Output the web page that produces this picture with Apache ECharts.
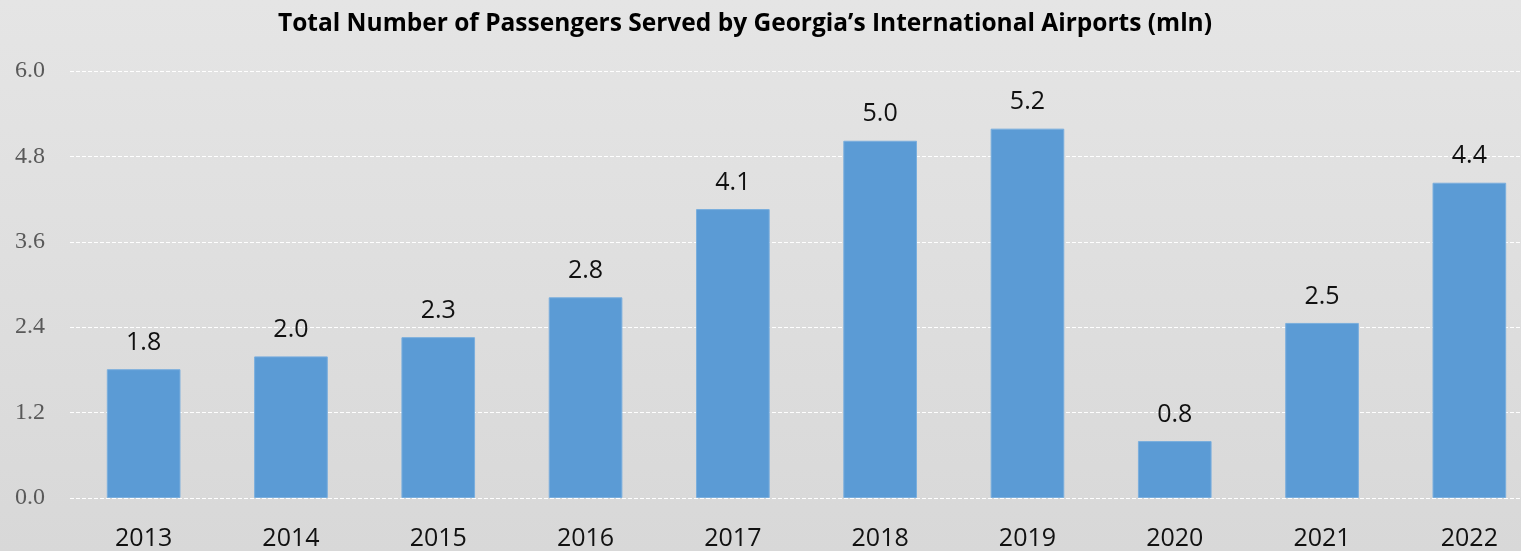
<!DOCTYPE html>
<html><head><meta charset="utf-8">
<script src="https://cdn.jsdelivr.net/npm/echarts@6/dist/echarts.min.js"></script>
<style>
html,body{margin:0;padding:0;width:1521px;height:551px;overflow:hidden;background:linear-gradient(to bottom,#e5e5e5,#d8d8d8);}
#c{width:1545px;height:551px;}
</style></head><body><div id="c"></div>
<script>
const titleText = "Total Number of Passengers Served by Georgia\u2019s International Airports (mln)";
const years = ["2013","2014","2015","2016","2017","2018","2019","2020","2021","2022"];
const passengers = [1.81, 1.99, 2.26, 2.82, 4.06, 5.02, 5.19, 0.80, 2.46, 4.43];
const yTicks = {min: 0, max: 6, interval: 1.2};

const chart = echarts.init(document.getElementById('c'), null, {renderer: 'canvas'});
chart.setOption({
  backgroundColor: 'transparent',
  animation: false,
  title: {
    text: titleText, left: 740, top: 7, textAlign: 'center',
    textStyle: {fontFamily: 'Open Sans', fontWeight: 'bold', fontSize: 24.5, color: '#000'}
  },
  grid: {left: 70, top: 71, width: 1473, height: 428, containLabel: false},
  xAxis: {
    type: 'category', data: years,
    axisLine: {show: false}, axisTick: {show: false},
    axisLabel: {fontFamily: 'Open Sans', fontSize: 25, color: '#111', margin: 28}
  },
  yAxis: {
    type: 'value', min: yTicks.min, max: yTicks.max, interval: yTicks.interval,
    axisLine: {show: false}, axisTick: {show: false},
    axisLabel: {fontFamily: 'Liberation Serif', fontSize: 24, color: '#595959', margin: 25,
      formatter: v => v.toFixed(1)},
    splitLine: {lineStyle: {color: '#ffffff', type: [4, 2], width: 1}}
  },
  series: [{
    type: 'bar', data: passengers, barWidth: '50%',
    itemStyle: {color: '#5b9bd5', borderColor: '#7aaedd', borderWidth: 1},
    label: {show: true, position: 'top', distance: 14, fontFamily: 'Open Sans', fontSize: 25,
      color: '#111', formatter: p => p.value.toFixed(1)}
  }]
});
</script></body></html>
